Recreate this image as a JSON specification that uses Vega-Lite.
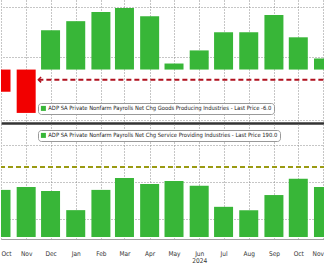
{
  "$schema": "https://vega.github.io/schema/vega-lite/v6.json",
  "padding": 0,
  "background": "white",
  "spacing": 1,
  "config": {
    "view": {"stroke": null},
    "scale": {"continuousPadding": 0},
    "font": "Liberation Sans Narrow, DejaVu Sans Condensed, sans-serif",
    "axis": {
      "gridColor": "#8c8c8c",
      "gridDash": [1, 2],
      "gridWidth": 1,
      "labelFont": "Liberation Sans Narrow, DejaVu Sans Condensed, sans-serif",
      "title": null
    },
    "axisY": {"minExtent": 0, "maxExtent": 0, "labelPadding": 0, "tickSize": 0},
    "legend": {
      "orient": "none",
      "direction": "horizontal",
      "title": null,
      "padding": 2.5,
      "strokeColor": "#999999",
      "fillColor": "white",
      "cornerRadius": 3,
      "symbolType": "square",
      "symbolSize": 25,
      "symbolStrokeWidth": 0,
      "labelFont": "Liberation Sans Narrow, DejaVu Sans Condensed, sans-serif",
      "labelFontSize": 5.8,
      "labelColor": "#222222",
      "labelLimit": 400,
      "labelOffset": 2
    }
  },
  "datasets": {
    "goods": [
      {"month": "2023-10-01", "value": -13.2, "series": "ADP SA Private Nonfarm Payrolls Net Chg Goods Producing Industries - Last Price -6.0"},
      {"month": "2023-11-01", "value": -25.8, "series": "ADP SA Private Nonfarm Payrolls Net Chg Goods Producing Industries - Last Price -6.0"},
      {"month": "2023-12-01", "value": 23.4, "series": "ADP SA Private Nonfarm Payrolls Net Chg Goods Producing Industries - Last Price -6.0"},
      {"month": "2024-01-01", "value": 28.8, "series": "ADP SA Private Nonfarm Payrolls Net Chg Goods Producing Industries - Last Price -6.0"},
      {"month": "2024-02-01", "value": 34.2, "series": "ADP SA Private Nonfarm Payrolls Net Chg Goods Producing Industries - Last Price -6.0"},
      {"month": "2024-03-01", "value": 36.6, "series": "ADP SA Private Nonfarm Payrolls Net Chg Goods Producing Industries - Last Price -6.0"},
      {"month": "2024-04-01", "value": 31.8, "series": "ADP SA Private Nonfarm Payrolls Net Chg Goods Producing Industries - Last Price -6.0"},
      {"month": "2024-05-01", "value": 3.6, "series": "ADP SA Private Nonfarm Payrolls Net Chg Goods Producing Industries - Last Price -6.0"},
      {"month": "2024-06-01", "value": 11.4, "series": "ADP SA Private Nonfarm Payrolls Net Chg Goods Producing Industries - Last Price -6.0"},
      {"month": "2024-07-01", "value": 22.2, "series": "ADP SA Private Nonfarm Payrolls Net Chg Goods Producing Industries - Last Price -6.0"},
      {"month": "2024-08-01", "value": 22.2, "series": "ADP SA Private Nonfarm Payrolls Net Chg Goods Producing Industries - Last Price -6.0"},
      {"month": "2024-09-01", "value": 32.4, "series": "ADP SA Private Nonfarm Payrolls Net Chg Goods Producing Industries - Last Price -6.0"},
      {"month": "2024-10-01", "value": 19.2, "series": "ADP SA Private Nonfarm Payrolls Net Chg Goods Producing Industries - Last Price -6.0"},
      {"month": "2024-11-01", "value": 6.6, "series": "ADP SA Private Nonfarm Payrolls Net Chg Goods Producing Industries - Last Price -6.0"}
    ],
    "services": [
      {"month": "2023-10-01", "value": 128, "series": "ADP SA Private Nonfarm Payrolls Net Chg Service Providing Industries - Last Price 190.0"},
      {"month": "2023-11-01", "value": 136, "series": "ADP SA Private Nonfarm Payrolls Net Chg Service Providing Industries - Last Price 190.0"},
      {"month": "2023-12-01", "value": 125, "series": "ADP SA Private Nonfarm Payrolls Net Chg Service Providing Industries - Last Price 190.0"},
      {"month": "2024-01-01", "value": 73, "series": "ADP SA Private Nonfarm Payrolls Net Chg Service Providing Industries - Last Price 190.0"},
      {"month": "2024-02-01", "value": 128, "series": "ADP SA Private Nonfarm Payrolls Net Chg Service Providing Industries - Last Price 190.0"},
      {"month": "2024-03-01", "value": 160, "series": "ADP SA Private Nonfarm Payrolls Net Chg Service Providing Industries - Last Price 190.0"},
      {"month": "2024-04-01", "value": 144, "series": "ADP SA Private Nonfarm Payrolls Net Chg Service Providing Industries - Last Price 190.0"},
      {"month": "2024-05-01", "value": 152, "series": "ADP SA Private Nonfarm Payrolls Net Chg Service Providing Industries - Last Price 190.0"},
      {"month": "2024-06-01", "value": 139, "series": "ADP SA Private Nonfarm Payrolls Net Chg Service Providing Industries - Last Price 190.0"},
      {"month": "2024-07-01", "value": 82, "series": "ADP SA Private Nonfarm Payrolls Net Chg Service Providing Industries - Last Price 190.0"},
      {"month": "2024-08-01", "value": 73, "series": "ADP SA Private Nonfarm Payrolls Net Chg Service Providing Industries - Last Price 190.0"},
      {"month": "2024-09-01", "value": 114, "series": "ADP SA Private Nonfarm Payrolls Net Chg Service Providing Industries - Last Price 190.0"},
      {"month": "2024-10-01", "value": 158, "series": "ADP SA Private Nonfarm Payrolls Net Chg Service Providing Industries - Last Price 190.0"},
      {"month": "2024-11-01", "value": 136, "series": "ADP SA Private Nonfarm Payrolls Net Chg Service Providing Industries - Last Price 190.0"}
    ],
    "goodsLast": [{"value": -6, "from": "2023-11-16", "to": "2025-01-31"}],
    "servicesLast": [{"value": 190}]
  },
  "vconcat": [
    {
      "width": 324,
      "height": 123,
      "layer": [
        {
          "data": {"name": "goods"},
          "mark": {"type": "bar", "width": 19, "clip": true},
          "encoding": {
            "x": {
              "field": "month",
              "type": "temporal",
              "scale": {"type": "utc", "padding": 0, "domain": [{"year": 2023, "month": 10, "date": 1, "utc": true}, {"year": 2024, "month": 11, "date": 2, "hours": 21, "utc": true}]},
              "axis": {"labels": false, "ticks": false, "domain": true, "domainColor": "#333333", "domainWidth": 2.5, "grid": true, "tickCount": {"interval": "month", "step": 1}}
            },
            "y": {
              "field": "value",
              "type": "quantitative",
              "scale": {"domain": [-31.8, 41.4], "nice": false, "zero": false},
              "axis": {"orient": "right", "labels": false, "ticks": false, "domain": false, "grid": true, "values": [-30, -22.5, -15, -7.5, 7.5, 15, 22.5, 30, 37.5]}
            },
            "color": {
              "condition": {"test": "datum.value < 0", "value": "#f20000"},
              "field": "series",
              "type": "nominal",
              "scale": {"range": ["#38b638"]},
              "legend": {"legendX": 37, "legendY": 103}
            }
          }
        },
        {
          "data": {"name": "goodsLast"},
          "mark": {"type": "rule", "strokeDash": [5, 3], "strokeWidth": 2, "color": "#b0101e", "clip": true},
          "encoding": {
            "x": {"field": "from", "type": "temporal"},
            "x2": {"field": "to"},
            "y": {"field": "value", "type": "quantitative"}
          }
        },
        {
          "data": {"name": "goodsLast"},
          "mark": {"type": "point", "shape": "M1,-1L0,0L1,1", "size": 30, "strokeWidth": 1.5, "color": "#b0101e", "filled": false, "opacity": 1},
          "encoding": {
            "x": {"field": "from", "type": "temporal"},
            "y": {"field": "value", "type": "quantitative"}
          }
        }
      ]
    },
    {
      "width": 324,
      "height": 115,
      "layer": [
        {
          "data": {"name": "services"},
          "mark": {"type": "bar", "width": 19, "clip": true},
          "encoding": {
            "x": {
              "field": "month",
              "type": "temporal",
              "scale": {"type": "utc", "padding": 0, "domain": [{"year": 2023, "month": 10, "date": 1, "utc": true}, {"year": 2024, "month": 11, "date": 2, "hours": 21, "utc": true}]},
              "axis": {
                "labels": true, "ticks": false, "domain": true, "domainColor": "#a0a0a0", "domainWidth": 1,
                "grid": true, "tickCount": {"interval": "month", "step": 1},
                "labelFontSize": 6.5, "labelColor": "#333333", "labelPadding": 11, "labelFlush": 12, "labelLineHeight": 7,
                "labelExpr": "utcFormat(datum.value, '%b') == 'Jun' ? [utcFormat(datum.value, '%b'), utcFormat(datum.value, '%Y')] : utcFormat(datum.value, '%b')"
              }
            },
            "y": {
              "field": "value",
              "type": "quantitative",
              "scale": {"domain": [-5.4, 307], "nice": false, "zero": false},
              "axis": {"orient": "right", "labels": false, "ticks": false, "domain": false, "grid": true, "values": [50, 100, 150, 200, 250, 300]}
            },
            "color": {
              "field": "series",
              "type": "nominal",
              "scale": {"range": ["#38b638"]},
              "legend": {"legendX": 37, "legendY": 6}
            }
          }
        },
        {
          "data": {"name": "servicesLast"},
          "mark": {"type": "rule", "strokeDash": [5, 3], "strokeWidth": 2, "color": "#9a9a12"},
          "encoding": {
            "y": {"field": "value", "type": "quantitative"}
          }
        }
      ]
    }
  ],
  "resolve": {"scale": {"color": "independent", "y": "independent"}}
}
